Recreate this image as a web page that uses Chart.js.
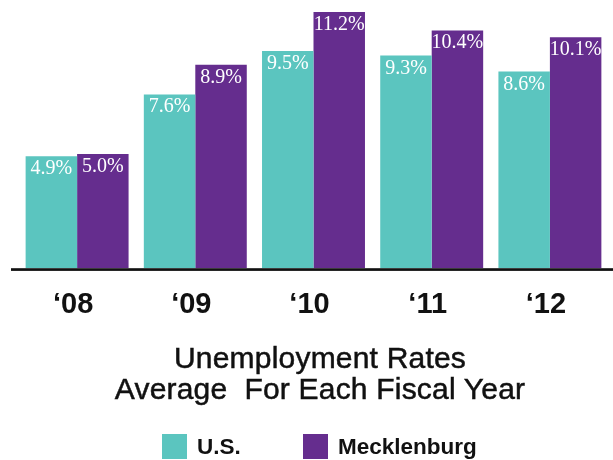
<!DOCTYPE html>
<html>
<head>
    <title>Unemployment Rates</title>
    <script src="https://cdnjs.cloudflare.com/ajax/libs/Chart.js/4.4.0/chart.umd.min.js"></script>
    <style>
        html, body {
            margin: 0;
            padding: 0;
            background: #fff;
        }
        .chart-container {
            width: 613px;
            height: 460px;
            position: relative;
            overflow: hidden;
        }
        .chart-title {
            position: absolute;
            top: 342px;
            left: 0;
            width: 640px;
            text-align: center;
            font-family: "Liberation Sans", Arial, sans-serif;
            font-size: 30px;
            line-height: 31px;
            letter-spacing: 0.2px;
            color: #111;
            -webkit-text-stroke: 0.5px #111;
        }
        .legend {
            position: absolute;
            top: 434px;
            left: 0;
            width: 613px;
            height: 26px;
            font-family: "Liberation Sans", Arial, sans-serif;
            font-weight: bold;
            font-size: 22.5px;
            color: #111;
        }
        .legend-item {
            position: absolute;
            top: 0;
            display: flex;
            align-items: center;
            height: 25px;
            line-height: 25px;
            white-space: nowrap;
        }
        .legend-box {
            width: 25px;
            height: 25px;
            margin-right: 10px;
        }
    </style>
</head>
<body>
    <div class="chart-container">
        <canvas id="myChart" width="613" height="460"></canvas>
        <div class="chart-title">Unemployment Rates<br>Average&nbsp; For Each Fiscal Year</div>
        <div class="legend" id="legend"></div>
    </div>

    <script>
        const years = ['\u201808', '\u201809', '\u201810', '\u201811', '\u201812'];
        const usRates = [4.9, 7.6, 9.5, 9.3, 8.6];
        const mecklenburgRates = [5.0, 8.9, 11.2, 10.4, 10.1];
        const seriesNames = ['U.S.', 'Mecklenburg'];
        const seriesColors = ['#5bc5bf', '#652d8e'];

        // white percentage labels near the top of each bar, plus the black baseline
        const barLabels = {
            id: 'barLabels',
            afterDatasetsDraw(chart) {
                const ctx = chart.ctx;
                ctx.save();
                ctx.fillStyle = '#fff';
                ctx.font = '20px "Liberation Serif", "Times New Roman", serif';
                ctx.textAlign = 'center';
                ctx.textBaseline = 'alphabetic';
                chart.data.datasets.forEach((ds, i) => {
                    chart.getDatasetMeta(i).data.forEach((bar, j) => {
                        ctx.fillText(ds.data[j].toFixed(1) + '%', bar.x, bar.y + 18);
                    });
                });
                const zeroY = chart.scales.y.getPixelForValue(0);
                ctx.fillStyle = '#111';
                ctx.fillRect(11, zeroY, 602, 2.7);
                ctx.restore();
            }
        };

        const ctx = document.getElementById('myChart');

        const chartInstance = new Chart(ctx, {
            type: 'bar',
            data: {
                labels: years,
                datasets: [{
                    label: seriesNames[0],
                    data: usRates,
                    backgroundColor: seriesColors[0],
                    borderWidth: 0
                }, {
                    label: seriesNames[1],
                    data: mecklenburgRates,
                    backgroundColor: seriesColors[1],
                    borderWidth: 0
                }]
            },
            options: {
                responsive: false,
                animation: false,
                categoryPercentage: 0.871,
                barPercentage: 1.0,
                layout: {
                    padding: { left: 18, right: 4, top: 0, bottom: 119 }
                },
                plugins: {
                    legend: { display: false },
                    tooltip: { enabled: false }
                },
                scales: {
                    x: {
                        grid: { display: false, drawTicks: false },
                        border: { display: false },
                        ticks: {
                            color: '#111',
                            padding: 19,
                            labelOffset: -4,
                            font: {
                                family: '"Liberation Sans", Arial, sans-serif',
                                size: 29,
                                weight: 'bold'
                            }
                        }
                    },
                    y: {
                        display: false,
                        min: 0,
                        max: 11.73
                    }
                }
            },
            plugins: [barLabels]
        });

        // legend row under the title
        const legendEl = document.getElementById('legend');
        const legendX = [162, 303];
        seriesNames.forEach((name, i) => {
            const item = document.createElement('div');
            item.className = 'legend-item';
            item.style.left = legendX[i] + 'px';
            item.innerHTML = '<span class="legend-box" style="background:' + seriesColors[i] + '"></span>' + name;
            legendEl.appendChild(item);
        });
    </script>
</body>
</html>
